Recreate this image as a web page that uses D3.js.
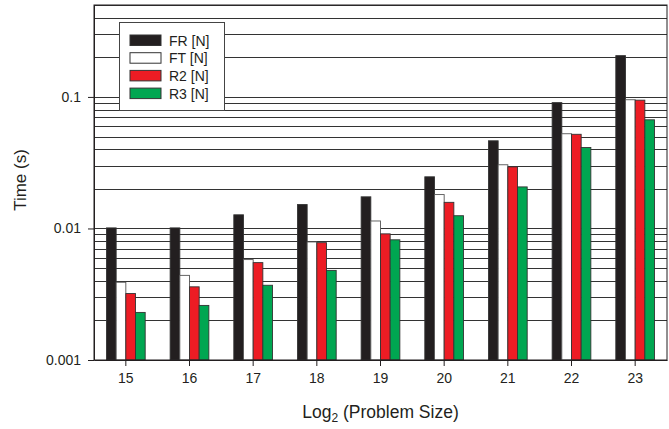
<!DOCTYPE html>
<html lang="en">
<head>
<meta charset="UTF-8">
<title>Time vs problem size</title>
<script src="https://d3js.org/d3.v7.min.js"></script>
<style>
    body { margin: 0; background: #fff; }
    svg { font-family: "Liberation Sans", Arial, sans-serif; }
    .tick text { font-size: 14px; fill: #231f20; }
    .legend_text { font-size: 14px; fill: #231f20; }
</style>
</head>
<body>
<svg width="669" height="429"></svg>
<script>
    // problem sizes (log2) and timings in seconds
    const sizes = ["15", "16", "17", "18", "19", "20", "21", "22", "23"];
    const seriesNames = ["FR [N]", "FT [N]", "R2 [N]", "R3 [N]"];
    const FR = [0.0101, 0.0101, 0.0127, 0.0152, 0.0174, 0.0247, 0.0464, 0.0905, 0.206];
    const FT = [0.0039, 0.0044, 0.0058, 0.0079, 0.0114, 0.0181, 0.0305, 0.0525, 0.0952];
    const R2 = [0.0032, 0.0036, 0.0055, 0.0078, 0.0091, 0.0158, 0.0294, 0.0520, 0.0945];
    const R3 = [0.0023, 0.0026, 0.0037, 0.0048, 0.0082, 0.0125, 0.0207, 0.0413, 0.0670];
    const yTickValues = [0.001, 0.01, 0.1];

    const colors = ["#231f20", "#ffffff", "#ed1c24", "#00a651"];
    const table = [FR, FT, R2, R3];

    const svg = d3.select("svg");
    const margin = {top: 5, right: 2, bottom: 69, left: 94};
    const W = 669 - margin.left - margin.right;
    const H = 429 - margin.top - margin.bottom;

    const g = svg.append("g").attr("transform", `translate(${margin.left},${margin.top})`);

    const x = d3.scaleBand().domain(sizes).range([0, W])
        .paddingInner(0.392).paddingOuter(0.196);
    const xs = d3.scaleBand().domain(d3.range(4)).range([0, x.bandwidth()]);
    const y = d3.scaleLog().domain([0.001, 0.5]).range([H, 0]);

    // grid lines at every minor tick
    g.append("g").selectAll("line")
        .data(y.ticks().filter(d => d > 0.001))
        .join("line")
        .attr("x1", 0).attr("x2", W)
        .attr("y1", d => Math.round(y(d)) + 0.5)
        .attr("y2", d => Math.round(y(d)) + 0.5)
        .attr("stroke", "#333").attr("stroke-width", 1);

    // bars
    const groups = g.append("g").selectAll("g")
        .data(sizes)
        .join("g")
        .attr("transform", d => `translate(${x(d)},0)`);

    groups.selectAll("rect")
        .data((d, i) => table.map((s, k) => ({k: k, v: s[i]})))
        .join("rect")
        .attr("x", d => xs(d.k))
        .attr("width", xs.bandwidth())
        .attr("y", d => y(d.v))
        .attr("height", d => H - y(d.v))
        .attr("fill", d => colors[d.k])
        .attr("stroke", d => d.k === 1 ? "#555" : "#333")
        .attr("stroke-width", 0.9);

    // frame
    g.append("rect").attr("x", 0).attr("y", 0).attr("width", W).attr("height", H)
        .attr("fill", "none").attr("stroke", "#231f20").attr("stroke-width", 1);

    // axes
    const xAxis = g.append("g").attr("transform", `translate(0,${H})`)
        .call(d3.axisBottom(x).tickSize(6).tickSizeOuter(0).tickPadding(7));
    const yAxis = g.append("g")
        .call(d3.axisLeft(y).tickValues(yTickValues).tickFormat(d3.format("")).tickSize(6).tickSizeOuter(0).tickPadding(7));
    [xAxis, yAxis].forEach(a => {
        a.select(".domain").attr("stroke", "#231f20");
        a.selectAll(".tick line").attr("stroke", "#231f20");
        a.selectAll(".tick text").style("font-size", "14px");
    });

    // legend
    const legend = g.append("g").attr("transform", "translate(25,17)");
    legend.append("rect").attr("x", 0.5).attr("y", 0.5).attr("width", 105).attr("height", 88)
        .attr("fill", "#fff").attr("stroke", "#444").attr("stroke-width", 1);
    const rows = legend.selectAll("g.row").data(seriesNames).join("g")
        .attr("class", "row")
        .attr("transform", (d, i) => `translate(11,${13 + i * 17.7})`);
    rows.append("rect").attr("width", 31).attr("height", 10.5)
        .attr("fill", (d, i) => colors[i])
        .attr("stroke", "#333").attr("stroke-width", 1);
    rows.append("text").attr("class", "legend_text")
        .attr("x", 39).attr("y", 5.5).attr("dy", "0.36em")
        .text(d => d);

    // axis titles
    svg.append("text")
        .attr("transform", "translate(26,180) rotate(-90)")
        .attr("text-anchor", "middle")
        .style("font-size", "17px").attr("fill", "#231f20")
        .text("Time (s)");

    const xt = svg.append("text")
        .attr("x", margin.left + W / 2).attr("y", 418)
        .attr("text-anchor", "middle")
        .style("font-size", "17.5px").attr("fill", "#231f20");
    xt.append("tspan").text("Log");
    xt.append("tspan").attr("dy", 4).style("font-size", "12px").text("2");
    xt.append("tspan").attr("dy", -4).text(" (Problem Size)");
</script>
</body>
</html>
